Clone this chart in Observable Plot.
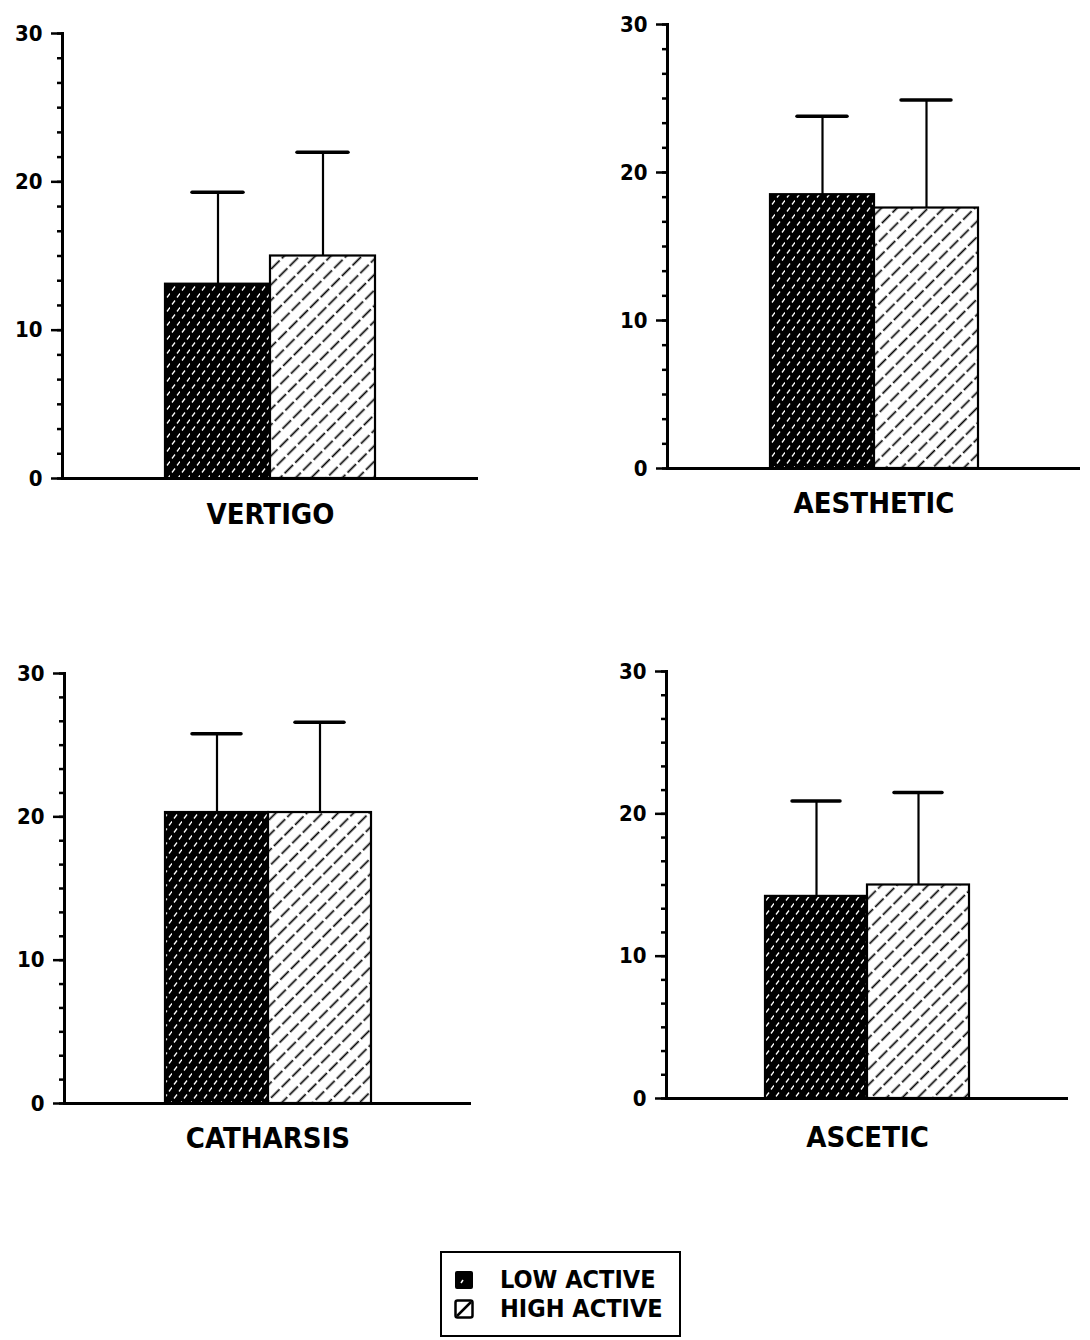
<!DOCTYPE html>
<html>
<head>
<meta charset="utf-8">
<script src="https://cdn.jsdelivr.net/npm/d3@7"></script>
<script src="https://cdn.jsdelivr.net/npm/@observablehq/plot@0.6"></script>
<style>
  body { margin: 0; background: #fff; }
  #root { position: relative; width: 1090px; height: 1340px; overflow: hidden; background: #fff; }
  .panel { position: absolute; }
  #legend { position: absolute; left: 440px; top: 1251px; width: 241px; height: 86px; box-sizing: border-box;
            border: 2.5px solid #000; font-family: "DejaVu Sans Condensed", "DejaVu Sans", sans-serif; font-weight: bold; }
  .litem { position: absolute; left: 12px; display: flex; align-items: center; font-size: 25px; line-height: 25px; }
  .litem svg { margin-right: 26px; }
</style>
</head>
<body>
<svg width="0" height="0" style="position:absolute">
  <defs>
    <pattern id="highHatch" patternUnits="userSpaceOnUse" width="15" height="11" patternTransform="rotate(-45)">
      <rect width="15" height="11" fill="#fff"/>
      <line x1="0" y1="5.5" x2="12" y2="5.5" stroke="#000" stroke-width="1.7"/>
    </pattern>
    <pattern id="lowHatch" patternUnits="userSpaceOnUse" width="10" height="14">
      <rect width="10" height="14" fill="#000"/>
      <line x1="2" y1="5.5" x2="5" y2="1.5" stroke="#fff" stroke-width="1.3"/>
      <line x1="7" y1="12.5" x2="10" y2="8.5" stroke="#fff" stroke-width="1.3"/>
    </pattern>
  </defs>
</svg>
<div id="root"></div>
<script>
// ---- data ----
const categories = ["VERTIGO", "AESTHETIC", "CATHARSIS", "ASCETIC"];
const groups = ["LOW ACTIVE", "HIGH ACTIVE"];
const lowMean  = [13.1, 18.5, 20.3, 14.2];
const highMean = [15.0, 17.6, 20.3, 15.0];
const lowUpper  = [19.3, 23.8, 25.8, 20.9];
const highUpper = [22.0, 24.9, 26.6, 21.5];
const majorTicks = [0, 10, 20, 30];
const minorTicks = d3.range(0, 30.001, 10 / 6);

// ---- layout (pixel positions of each panel's axes) ----
const layout = [
  {x0: 62,  x1: 478,  y0: 478,  y30: 33,  labelDy: 45},
  {x0: 667, x1: 1080, y0: 468,  y30: 24,  labelDy: 44},
  {x0: 64,  x1: 471,  y0: 1103, y30: 673, labelDy: 44},
  {x0: 666, x1: 1068, y0: 1098, y30: 671, labelDy: 48}
];

const FONT = "DejaVu Sans Condensed, DejaVu Sans, sans-serif";
const root = document.getElementById("root");
const mL = 62, mT = 14, mR = 8, mB = 64;

categories.forEach((cat, i) => {
  const L = layout[i];
  const rows = [
    {group: groups[0], mean: lowMean[i],  upper: lowUpper[i]},
    {group: groups[1], mean: highMean[i], upper: highUpper[i]}
  ];
  const chart = Plot.plot({
    width: mL + (L.x1 - L.x0) + mR,
    height: mT + (L.y0 - L.y30) + mB,
    marginLeft: mL, marginTop: mT, marginRight: mR, marginBottom: mB,
    style: {fontFamily: FONT, fontWeight: "bold", fontSize: "22px", background: "transparent"},
    x: {type: "band", domain: groups, paddingInner: 0, paddingOuter: 0.97, axis: null},
    y: {domain: [0, 30]},
    color: {type: "ordinal", domain: groups, range: ["url(#lowHatch)", "url(#highHatch)"]},
    marks: [
      Plot.ruleX(rows, {x: "group", y1: "mean", y2: "upper", stroke: "#000", strokeWidth: 2.2}),
      Plot.tickY(rows, {x: "group", y: "upper", stroke: "#000", strokeWidth: 3.5, insetLeft: 27, insetRight: 27, strokeLinecap: "round"}),
      Plot.barY(rows, {x: "group", y: "mean", fill: "group", stroke: "#000", strokeWidth: 2.2}),
      Plot.axisY({ticks: minorTicks, tickSize: 5, tickFormat: () => "", strokeWidth: 2.5}),
      Plot.axisY({ticks: majorTicks, tickSize: 11, tickPadding: 9, strokeWidth: 2.5, fontSize: 22, fontWeight: "bold", fontFamily: FONT}),
      Plot.frame({anchor: "left", stroke: "#000", strokeWidth: 3}),
      Plot.ruleY([0], {stroke: "#000", strokeWidth: 3}),
      Plot.text([cat], {frameAnchor: "bottom", lineAnchor: "bottom", dy: L.labelDy, fontSize: 29, fontWeight: "bold", fontFamily: FONT, fill: "#000"})
    ]
  });
  chart.classList.add("panel");
  chart.style.left = (L.x0 - mL) + "px";
  chart.style.top = (L.y30 - mT) + "px";
  root.appendChild(chart);
});

// ---- legend ----
const legend = document.createElement("div");
legend.id = "legend";
legend.innerHTML = `
  <div class="litem" style="top:14px">
    <svg width="20" height="20"><rect x="1" y="1" width="18" height="18" rx="2" fill="#000"/><line x1="7" y1="13" x2="9" y2="10" stroke="#fff" stroke-width="1.5"/></svg>
    <span>${groups[0]}</span></div>
  <div class="litem" style="top:43px">
    <svg width="20" height="20"><rect x="1.5" y="1.5" width="17" height="17" rx="2" fill="#fff" stroke="#000" stroke-width="2.5"/><line x1="3" y1="17" x2="17" y2="3" stroke="#000" stroke-width="2.5"/></svg>
    <span>${groups[1]}</span></div>`;
root.appendChild(legend);
</script>
</body>
</html>
